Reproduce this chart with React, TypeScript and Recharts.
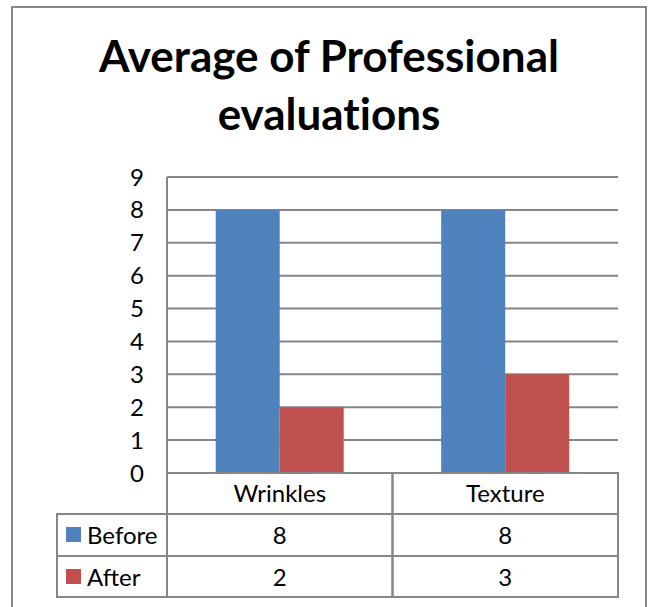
import React from 'react';
import { BarChart, Bar, XAxis, YAxis, CartesianGrid } from 'recharts';

const categories = ['Wrinkles', 'Texture'];
const seriesNames = ['Before', 'After'];
const beforeValues = [8, 8];
const afterValues = [2, 3];
const yTicks = [0, 1, 2, 3, 4, 5, 6, 7, 8, 9];
const titleLines = ['Average of Professional', 'evaluations'];

const seriesValues = [beforeValues, afterValues];
const data = categories.map((c, i) => {
  const row: any = { name: c };
  seriesNames.forEach((s, j) => { row[s] = seriesValues[j][i]; });
  return row;
});

const COLORS = ['#4F81BD', '#C0504D'];
const GRID = '#868686';
const FONT = 'Lato, "Open Sans", sans-serif';

const W = 652;
const H = 607;
const PLOT_LEFT = 167;
const PLOT_RIGHT = 618;
const PLOT_TOP = 177;
const PLOT_BOTTOM = 473;
const ROW_H = [41, 42, 41];
const LEGEND_LEFT = 57;
const YAXIS_W = 60;
const XAXIS_H = ROW_H[0] + ROW_H[1] + ROW_H[2];
const TEXT_SIZE = 24;
const NOLIG: any = { fontVariantLigatures: 'none' };

const TableTick = (props: any) => {
  const { x, y, payload, index } = props;
  const colW = (PLOT_RIGHT - PLOT_LEFT) / categories.length;
  const left = x - colW / 2;
  const top = y;
  const r1 = top + ROW_H[0];
  const r2 = r1 + ROW_H[1];
  const r3 = r2 + ROW_H[2];
  const ci = categories.indexOf(payload.value);
  const rowsTop = [r1, r2];
  const rowsH = [ROW_H[1], ROW_H[2]];
  return (
    <g>
      <rect x={left} y={top} width={colW} height={ROW_H[0]} fill="none" stroke={GRID} strokeWidth={2} />
      <text x={x} y={top + 29} textAnchor="middle" fontSize={TEXT_SIZE} fontFamily={FONT} fill="#000" style={NOLIG}>
        {payload.value}
      </text>
      {seriesNames.map((s, j) => (
        <g key={s}>
          <rect x={left} y={rowsTop[j]} width={colW} height={rowsH[j]} fill="none" stroke={GRID} strokeWidth={2} />
          <text x={x} y={rowsTop[j] + 30} textAnchor="middle" fontSize={TEXT_SIZE} fontFamily={FONT} fill="#000">
            {seriesValues[j][ci]}
          </text>
        </g>
      ))}
      {index === 0 && seriesNames.map((s, j) => (
        <g key={'lg' + s}>
          <rect x={LEGEND_LEFT} y={rowsTop[j]} width={left - LEGEND_LEFT} height={rowsH[j]} fill="none" stroke={GRID} strokeWidth={2} />
          <rect x={LEGEND_LEFT + 9} y={rowsTop[j] + 13} width={15} height={15} fill={COLORS[j]} />
          <text x={LEGEND_LEFT + 30} y={rowsTop[j] + 30} textAnchor="start" fontSize={TEXT_SIZE} fontFamily={FONT} fill="#000">
            {s}
          </text>
        </g>
      ))}
      <line x1={LEGEND_LEFT} x2={left + colW} y1={r3} y2={r3} stroke={GRID} strokeWidth={2} />
    </g>
  );
};

export default function App() {
  return (
    <div style={{ position: 'fixed', left: 0, top: 0, width: W, height: H, overflow: 'hidden', background: '#fff' }}>
      <div style={{ position: 'absolute', left: 11, top: 6, width: 632, height: 700, borderLeft: `2px solid ${GRID}`, borderTop: `2px solid ${GRID}`, borderRight: `2px solid ${GRID}` }} />
      <svg width={W} height={170} style={{ position: 'absolute', left: 0, top: 0 }}>
        {titleLines.map((t, i) => (
          <text key={t} x={329} y={72 + i * 58} textAnchor="middle" fontSize={44} fontWeight="bold" fontFamily={FONT} fill="#000" style={NOLIG}>
            {t}
          </text>
        ))}
      </svg>
      <div style={{ position: 'absolute', left: 0, top: 0 }}>
        <BarChart
          width={W}
          height={H}
          data={data}
          margin={{ top: PLOT_TOP, right: W - PLOT_RIGHT, left: PLOT_LEFT - YAXIS_W, bottom: H - PLOT_BOTTOM - XAXIS_H }}
          barCategoryGap="21.6%"
          barGap={0}
        >
          <CartesianGrid vertical={false} stroke={GRID} strokeWidth={2} />
          <YAxis
            width={YAXIS_W}
            domain={[0, 9]}
            ticks={yTicks}
            interval={0}
            tickSize={0}
            tickMargin={23}
            axisLine={{ stroke: GRID, strokeWidth: 2 }}
            tick={{ fontSize: TEXT_SIZE, fontFamily: FONT, fill: '#000' }}
          />
          <XAxis
            dataKey="name"
            height={XAXIS_H}
            tickSize={0}
            tickMargin={0}
            interval={0}
            axisLine={{ stroke: GRID, strokeWidth: 2 }}
            tick={<TableTick />}
          />
          {seriesNames.map((s, j) => (
            <Bar key={s} dataKey={s} fill={COLORS[j]} isAnimationActive={false} />
          ))}
        </BarChart>
      </div>
    </div>
  );
}
